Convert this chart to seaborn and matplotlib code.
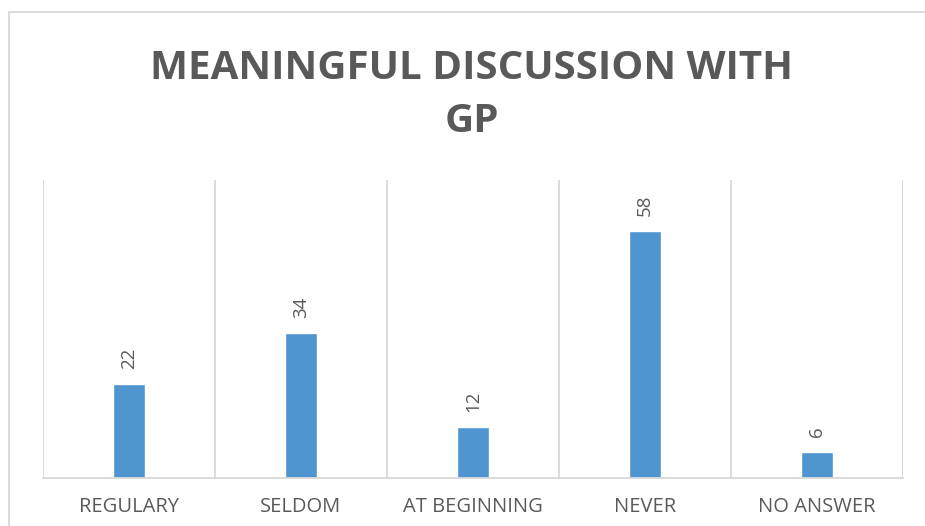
import numpy as np
import matplotlib
matplotlib.use("Agg")
import matplotlib.pyplot as plt
import seaborn as sns
from matplotlib.patches import Rectangle

# data
categories = ["REGULARY", "SELDOM", "AT BEGINNING", "NEVER", "NO ANSWER"]
counts = [22, 34, 12, 58, 6]
title = "MEANINGFUL DISCUSSION WITH\nGP"

sns.set_style("white")
plt.rcParams["font.family"] = ["Open Sans", "DejaVu Sans"]

text_grey = "#595959"
grid_grey = "#D9D9D9"
bar_blue = "#4F95D0"

fig = plt.figure(figsize=(9.25, 5.26), dpi=100)
ax = fig.add_axes([43 / 925, 1 - 478 / 526, 860 / 925, 298 / 526])

sns.barplot(x=categories, y=counts, color=bar_blue, width=0.186, saturation=1, ax=ax)

ax.set_xlim(-0.5, len(categories) - 0.5)
ax.set_ylim(0, 70)

# category separators as minor grid
ax.set_xticks(np.arange(-0.5, len(categories), 1), minor=True)
ax.grid(which="minor", axis="x", color=grid_grey, linewidth=1.3)
ax.grid(which="major", visible=False)
ax.tick_params(axis="x", which="both", length=0)
ax.tick_params(axis="x", which="major", pad=14, labelsize=14.5, labelcolor=text_grey)
ax.set_yticks([])
ax.set_xlabel("")
ax.set_ylabel("")

for side in ["left", "right", "top"]:
    ax.spines[side].set_visible(False)
ax.spines["bottom"].set_color(grid_grey)
ax.spines["bottom"].set_linewidth(1.3)

for cont in ax.containers:
    ax.bar_label(cont, rotation=90, padding=11, fontsize=13.5, color=text_grey)

# outer chart frame
fig.patches.append(Rectangle((8.5 / 925, -0.1), 1.2, 1.1 - 12.5 / 526,
                             transform=fig.transFigure, fill=False,
                             edgecolor=grid_grey, linewidth=1.3))

fig.text(472 / 925, 1 - 95 / 526, title, ha="center", va="center",
         fontsize=29, fontweight="bold", color=text_grey, linespacing=1.45)

fig.savefig("out.png", dpi=100)
